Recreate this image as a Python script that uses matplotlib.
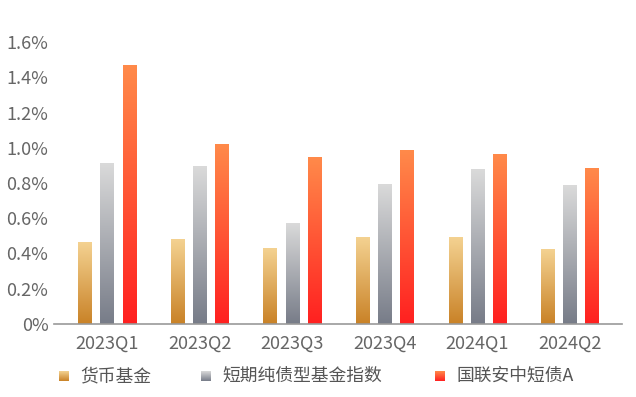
import matplotlib.pyplot as plt
import numpy as np
from matplotlib.colors import LinearSegmentedColormap

plt.rcParams['font.family'] = ['Noto Sans CJK SC', 'DejaVu Sans']

##### Data ######
quarters = ['2023Q1', '2023Q2', '2023Q3', '2023Q4', '2024Q1', '2024Q2']
money_fund = [0.46, 0.477, 0.426, 0.488, 0.488, 0.42]
short_bond_index = [0.913, 0.896, 0.573, 0.789, 0.879, 0.783]
guolian_short_a = [1.464, 1.016, 0.942, 0.987, 0.959, 0.885]
series_names = ['货币基金', '短期纯债型基金指数', '国联安中短债A']

# gradient colours (top, bottom)
grads = [('#F4D291', '#C98227'), ('#DADADA', '#777C88'), ('#FF8A4A', '#FF2020')]

W, H = 636, 397
fig = plt.figure(figsize=(W / 100, H / 100), dpi=100)
ax = fig.add_axes([54 / W, (H - 324) / H, (622 - 54) / W, (324 - 42) / H])

grad_img = np.linspace(1, 0, 256).reshape(-1, 1)
width = 0.151
offsets = [-0.238, 0, 0.238]
x = np.arange(len(quarters))

for k, vals in enumerate([money_fund, short_bond_index, guolian_short_a]):
    cmap = LinearSegmentedColormap.from_list('g%d' % k, [grads[k][1], grads[k][0]])
    for i, v in enumerate(vals):
        x0 = x[i] + offsets[k] - width / 2
        ax.imshow(grad_img, cmap=cmap, aspect='auto', vmin=0, vmax=1,
                  extent=[x0, x0 + width, 0, v], interpolation='bicubic', zorder=2)

ax.set_xlim(-0.578, 5.562)
ax.set_ylim(0, 1.6)
ax.set_xticks(x)
ax.set_xticklabels(quarters)
yt = [0, 0.2, 0.4, 0.6, 0.8, 1.0, 1.2, 1.4, 1.6]
ax.set_yticks(yt)
ax.set_yticklabels(['0%'] + ['%.1f%%' % t for t in yt[1:]])
ax.tick_params(length=0, labelsize=13, colors='#666666', pad=4)
ax.tick_params(axis='x', pad=8)
for s in ['top', 'right', 'left']:
    ax.spines[s].set_visible(False)
ax.spines['bottom'].set_color('#999999')
ax.spines['bottom'].set_linewidth(1.2)

# legend drawn by hand
leg_x = [59, 201, 435]
for k, name in enumerate(series_names):
    cmap = LinearSegmentedColormap.from_list('l%d' % k, [grads[k][1], grads[k][0]])
    lax = fig.add_axes([leg_x[k] / W, (H - 381) / H, 10 / W, 10 / H])
    lax.imshow(grad_img, cmap=cmap, aspect='auto', vmin=0, vmax=1)
    lax.axis('off')
    fig.text((leg_x[k] + 21) / W, (H - 376) / H, name, fontsize=12.8,
             color='#555555', va='center', ha='left')

fig.savefig('out.png', dpi=100)
